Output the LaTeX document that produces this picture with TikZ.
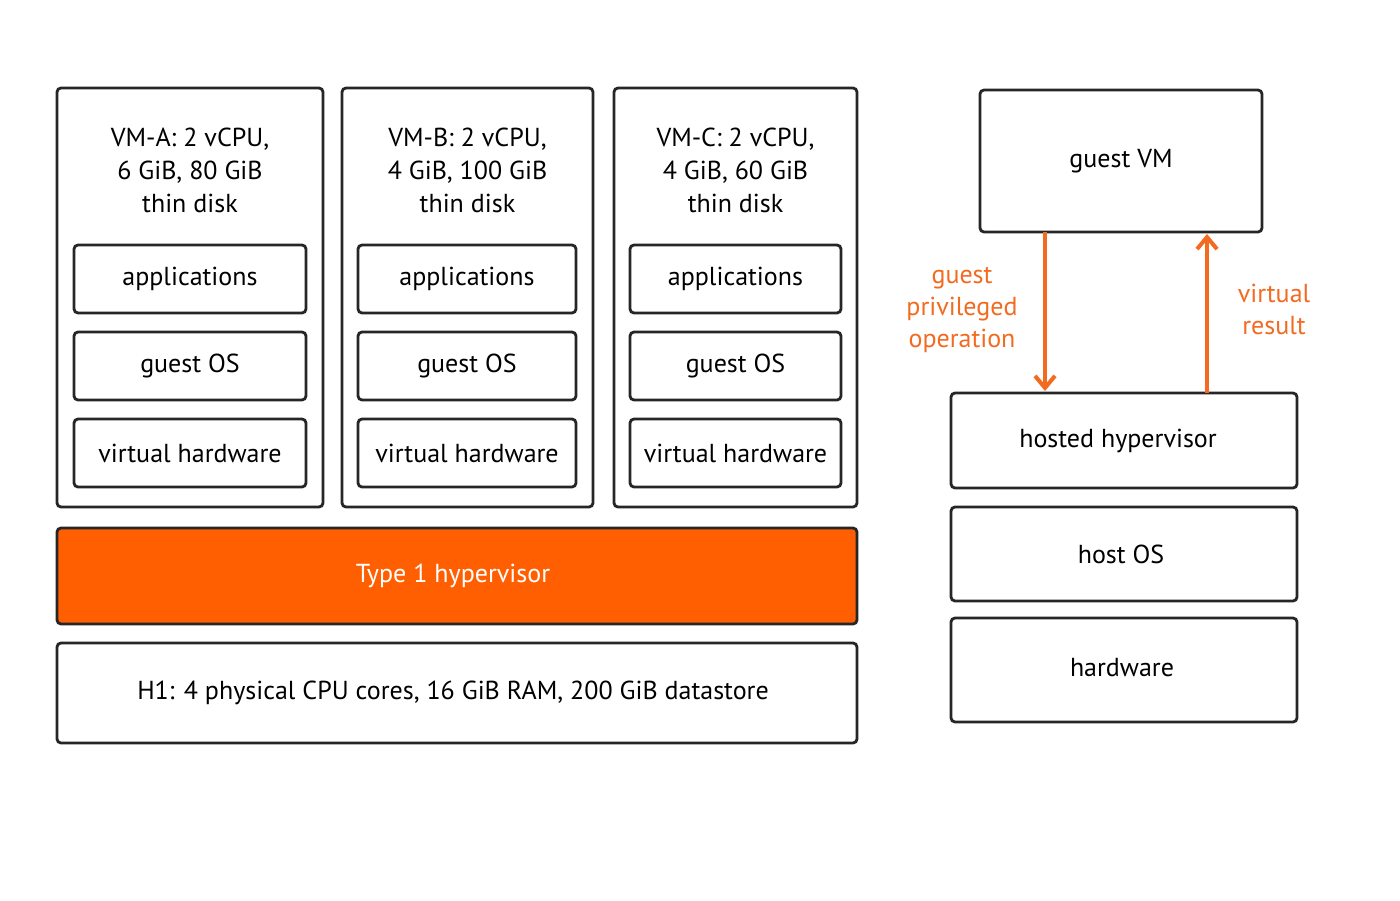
\documentclass[tikz,border=0pt]{standalone}
\usepackage{fontspec}
\setmainfont{PT Sans}
\usetikzlibrary{arrows.meta}
\definecolor{org}{HTML}{FF5F00}
\definecolor{arr}{HTML}{F26B21}
\begin{document}
\begin{tikzpicture}[x=0.5pt,y=-0.5pt,
  bx/.style={draw=black!85,line width=1.4pt,rounded corners=2pt},
  lbl/.style={font=\fontsize{13}{16.5}\selectfont,align=center},
  olbl/.style={font=\fontsize{13}{16}\selectfont,align=center,text=arr},
  ar/.style={draw=arr,line width=2pt,-{Straight Barb[length=6pt,width=10pt,line width=2pt]}}]
\useasboundingbox (0,0) rectangle (1400,900);
\fill[white] (0,0) rectangle (1400,900);
% VMs
\foreach \n/\l/\r/\il/\ir/\t in {a/57/323/74/306/{VM-A: 2 vCPU,\\6 GiB, 80 GiB\\thin disk},b/342/593/358/576/{VM-B: 2 vCPU,\\4 GiB, 100 GiB\\thin disk},c/614/857/630/841/{VM-C: 2 vCPU,\\4 GiB, 60 GiB\\thin disk}}{
  \draw[bx] (\l,88) rectangle (\r,507);
  \node[lbl] (t\n) at ({(\l+\r)/2},170) {\t};
  \draw[bx] (\il,245) rectangle (\ir,313);
  \node[lbl] (ap\n) at ({(\il+\ir)/2},279) {applications};
  \draw[bx] (\il,332) rectangle (\ir,400);
  \node[lbl] (os\n) at ({(\il+\ir)/2},366) {guest OS};
  \draw[bx] (\il,419) rectangle (\ir,487);
  \node[lbl] (vh\n) at ({(\il+\ir)/2},453) {virtual hardware};
}
\draw[bx,fill=org] (57,528) rectangle (857,624);
\node[lbl,text=white] (hyp) at (453,576) {Type 1 hypervisor};
\draw[bx] (57,643) rectangle (857,743);
\node[lbl] (h1) at (453,693) {H1: 4 physical CPU cores, 16 GiB RAM, 200 GiB datastore};
% right
\draw[bx] (980,90) rectangle (1262,232);
\node[lbl] (gvm) at (1121,161) {guest VM};
\draw[bx] (951,393) rectangle (1297,488);
\node[lbl] (hh) at (1118,441) {hosted hypervisor};
\draw[bx] (951,507) rectangle (1297,601);
\node[lbl] (hos) at (1121,554) {host OS};
\draw[bx] (951,618) rectangle (1297,722);
\node[lbl] (hw) at (1122,668) {hardware};
\coordinate (d1) at (1045,232); \coordinate (d2) at (1045,391);
\coordinate (u1) at (1207,393); \coordinate (u2) at (1207,234);
\draw[ar] (d1) -- (d2);
\draw[ar] (u1) -- (u2);
\node[olbl] (gpo) at (962,310) {guest\\privileged\\operation};
\node[olbl] (vr) at (1274,309) {virtual\\result};
\end{tikzpicture}
\end{document}
